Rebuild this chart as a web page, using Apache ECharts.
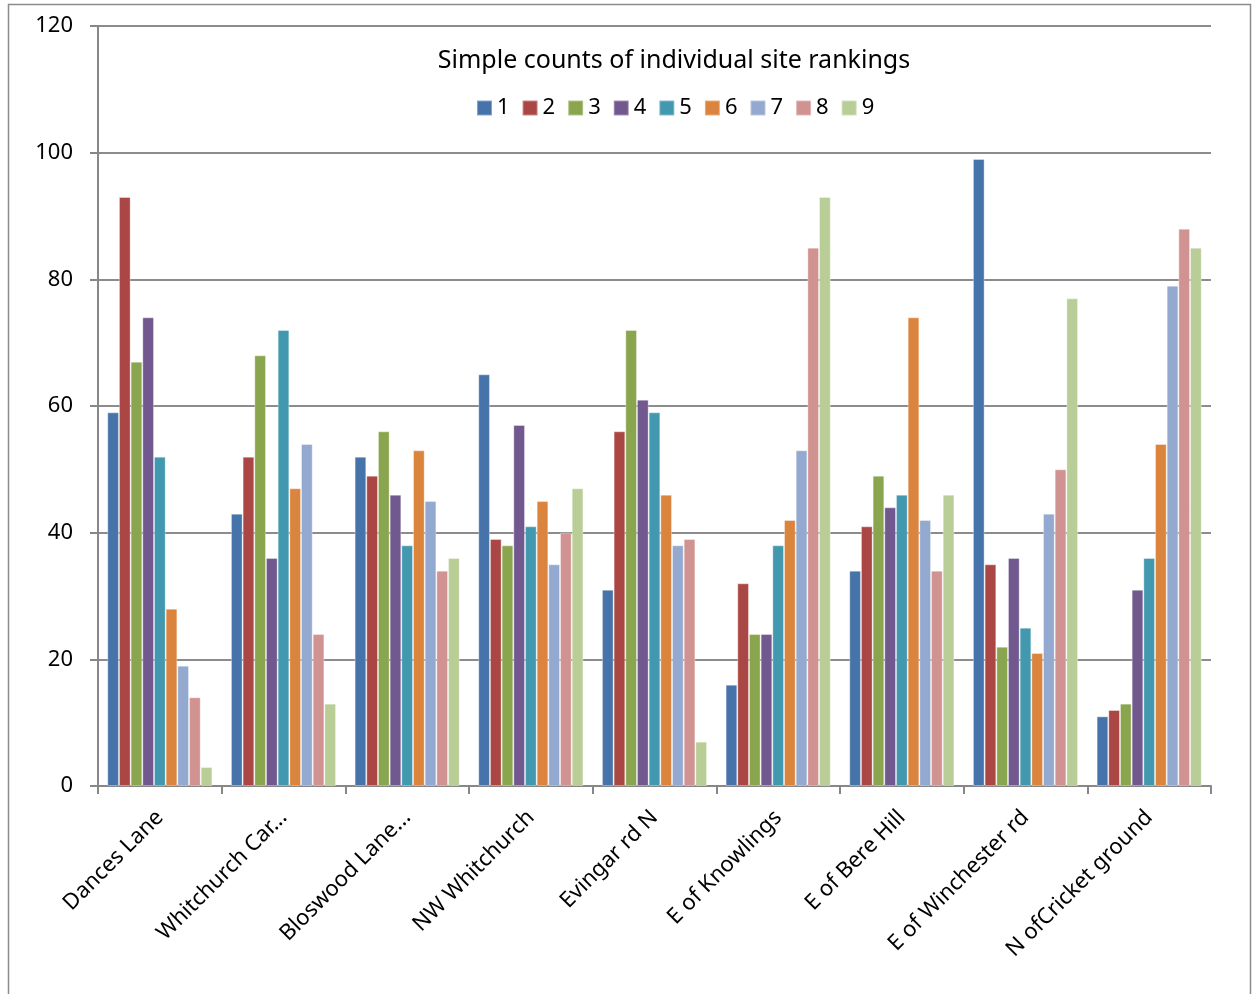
<!DOCTYPE html>
<html>
<head>
<meta charset="utf-8">
<script src="https://cdn.jsdelivr.net/npm/echarts@6/dist/echarts.min.js"></script>
<style>
  html, body { margin: 0; padding: 0; background: #fff; }
  #chart { width: 1252px; height: 994px; }
</style>
</head>
<body>
<div id="chart"></div>
<script>
// Sites (x-axis categories)
const sites = ['Dances Lane', 'Whitchurch Car...', 'Bloswood Lane...', 'NW Whitchurch',
  'Evingar rd N', 'E of Knowlings', 'E of Bere Hill', 'E of Winchester rd', 'N ofCricket ground'];

// Count of each ranking (1..9) per site
const rank1 = [59, 43, 52, 65, 31, 16, 34, 99, 11];
const rank2 = [93, 52, 49, 39, 56, 32, 41, 35, 12];
const rank3 = [67, 68, 56, 38, 72, 24, 49, 22, 13];
const rank4 = [74, 36, 46, 57, 61, 24, 44, 36, 31];
const rank5 = [52, 72, 38, 41, 59, 38, 46, 25, 36];
const rank6 = [28, 47, 53, 45, 46, 42, 74, 21, 54];
const rank7 = [19, 54, 45, 35, 38, 53, 42, 43, 79];
const rank8 = [14, 24, 34, 40, 39, 85, 34, 50, 88];
const rank9 = [3, 13, 36, 47, 7, 93, 46, 77, 85];

const rankNames = ['1', '2', '3', '4', '5', '6', '7', '8', '9'];
const rankData = [rank1, rank2, rank3, rank4, rank5, rank6, rank7, rank8, rank9];

const colors = ['#4674AA', '#AA4643', '#89A54E', '#71588F', '#4198AF',
  '#DB843D', '#93A9CF', '#D19392', '#B9CD96'];

const FONT = 'Noto Sans';

const chart = echarts.init(document.getElementById('chart'), null, { renderer: 'canvas' });

chart.setOption({
  animation: false,
  color: colors,
  textStyle: { fontFamily: FONT },
  title: {
    text: 'Simple counts of individual site rankings',
    left: 669,
    textAlign: 'center',
    top: 43,
    textStyle: { fontFamily: FONT, fontSize: 25, fontWeight: 'normal', color: '#000' }
  },
  legend: {
    data: rankNames,
    top: 92,
    left: 471,
    itemWidth: 15,
    itemHeight: 15,
    itemGap: 12,
    icon: 'rect',
    textStyle: { fontFamily: FONT, fontSize: 22, color: '#000' }
  },
  graphic: [{
    type: 'rect',
    silent: true,
    shape: { x: 8.5, y: 4.5, width: 1242, height: 1000 },
    style: { fill: 'none', stroke: '#8c8c8c', lineWidth: 1.5 }
  }],
  grid: { left: 98, top: 26, width: 1113, height: 760, containLabel: false },
  xAxis: {
    type: 'category',
    data: sites,
    axisLine: { lineStyle: { color: '#878787', width: 2 } },
    axisTick: { show: true, length: 8, lineStyle: { color: '#878787', width: 2 } },
    axisLabel: {
      rotate: 45, interval: 0, margin: 28,
      fontFamily: FONT, fontSize: 22, color: '#000'
    },
    splitLine: { show: false }
  },
  yAxis: {
    type: 'value',
    min: 0, max: 120, interval: 20,
    axisLine: { show: true, lineStyle: { color: '#878787', width: 2 } },
    axisTick: { show: true, length: 8, lineStyle: { color: '#878787', width: 2 } },
    axisLabel: { margin: 25, fontFamily: FONT, fontSize: 22, color: '#000' },
    splitLine: { lineStyle: { color: '#8c8c8c', width: 2 } }
  },
  series: rankNames.map((name, i) => ({
    name: name,
    type: 'bar',
    data: rankData[i],
    barGap: '0%',
    barCategoryGap: '15%',
    itemStyle: { color: colors[i], borderColor: 'rgba(255,255,255,0.35)', borderWidth: 1 }
  }))
});
</script>
</body>
</html>
